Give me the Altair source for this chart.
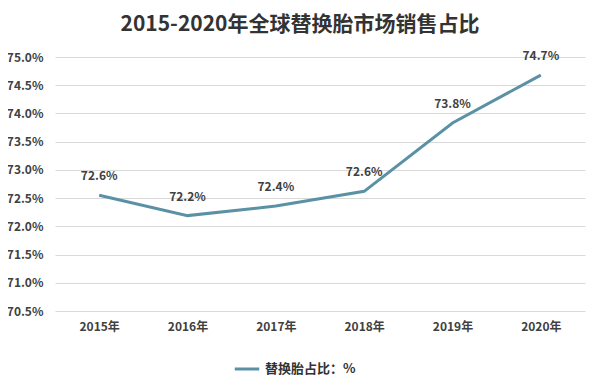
import altair as alt
import pandas as pd

years = ["2015年", "2016年", "2017年", "2018年", "2019年", "2020年"]
values = [72.55, 72.19, 72.36, 72.62, 73.83, 74.68]
labels = ["72.6%", "72.2%", "72.4%", "72.6%", "73.8%", "74.7%"]
series = "替换胎占比：%"
title = "2015-2020年全球替换胎市场销售占比"
y_ticks = [70.5, 71.0, 71.5, 72.0, 72.5, 73.0, 73.5, 74.0, 74.5, 75.0]

df = pd.DataFrame({"year": years, "value": values, "label": labels, "series": [series] * len(years)})

FONT = "Noto Sans CJK SC"
LINE = "#5b91a5"

x = alt.X("year:N", sort=years, title=None,
          scale=alt.Scale(paddingInner=0, paddingOuter=0),
          axis=alt.Axis(labelAngle=0, labelFont=FONT, labelFontSize=12, labelFontWeight="bold",
                        labelColor="#404040", labelPadding=10, domain=False, ticks=False, grid=False))
y = alt.Y("value:Q", title=None,
          scale=alt.Scale(domain=[70.5, 75.0], zero=False, nice=False),
          axis=alt.Axis(values=y_ticks, labelExpr="format(datum.value, '.1f') + '%'",
                        labelOverlap=False, labelBound=False,
                        labelFont=FONT, labelFontSize=12, labelFontWeight="bold", labelColor="#404040",
                        labelPadding=12, domain=False, ticks=False, grid=True,
                        gridColor="#d9d9d9", gridWidth=1))

base = alt.Chart(df).encode(x=x, y=y)

line = base.mark_line(strokeWidth=3).encode(
    color=alt.Color("series:N", scale=alt.Scale(range=[LINE]),
                    legend=alt.Legend(title=None, orient="none", legendX=178, legendY=298,
                                      symbolType="stroke", symbolStrokeWidth=3, symbolSize=600,
                                      labelFont=FONT, labelFontSize=13, labelFontWeight="bold",
                                      labelColor="#333333", labelLimit=300))
)

text = base.mark_text(dy=-19, font=FONT, fontSize=12, fontWeight="bold", color="#404040").encode(
    text="label:N"
)

chart = alt.layer(line, text).properties(
    width=530, height=254,
    autosize=alt.AutoSizeParams(type="none"),
    padding={"left": 47, "top": 49, "right": 7, "bottom": 69},
    title=alt.TitleParams(title, font=FONT, fontSize=21, fontWeight="bold", color="#333333",
                          anchor="middle", dx=-20, offset=15)
).configure_view(stroke=None)

chart.save("out.html", embed_options={"renderer": "svg", "actions": False})
